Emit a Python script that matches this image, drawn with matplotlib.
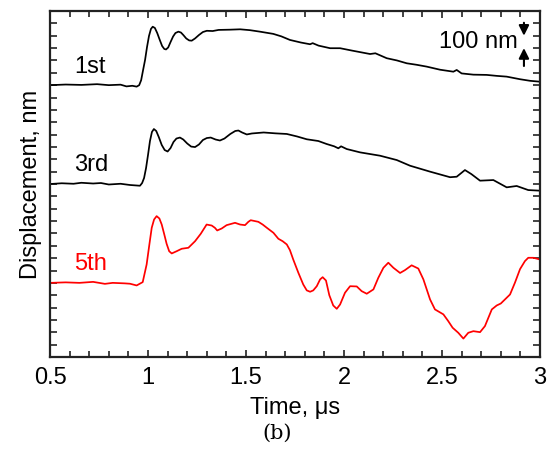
import matplotlib.pyplot as plt
import numpy as np

plt.rcParams['font.family'] = ['Liberation Sans', 'DejaVu Sans']

# Displacement traces (nm, relative to each baseline) vs time (us)
t_1st = [0.5, 0.58, 0.66, 0.74, 0.80, 0.86, 0.89, 0.92, 0.942, 0.955, 0.965,
         0.975, 0.985, 0.995, 1.005, 1.015, 1.024, 1.035, 1.047, 1.06, 1.072,
         1.083, 1.092, 1.103, 1.115, 1.128, 1.14, 1.155, 1.168, 1.18, 1.195,
         1.21, 1.223, 1.24, 1.26, 1.28, 1.3, 1.33, 1.36, 1.418, 1.47, 1.52,
         1.571, 1.639, 1.68, 1.724, 1.78, 1.827, 1.84, 1.87, 1.929, 1.98, 2.04,
         2.133, 2.16, 2.218, 2.27, 2.32, 2.37, 2.422, 2.49, 2.558, 2.575, 2.6,
         2.66, 2.728, 2.78, 2.83, 2.898, 2.95, 3.0]
d_1st = [0, 5, 2, 8, 0, 4, -10, -5, -12, 0, 40,
         123, 204, 309, 398, 455, 473, 463, 422, 366, 317,
         293, 289, 305, 349, 394, 422, 433, 426, 406, 378,
         362, 360, 378, 406, 430, 440, 438, 447, 449, 452, 445,
         433, 415, 395, 366, 345, 331, 340, 320, 299, 299, 280,
         252, 258, 218, 200, 177, 165, 150, 125, 109, 123, 95,
         85, 83, 75, 69, 48, 35, 28]

t_3rd = [0.5, 0.56, 0.62, 0.66, 0.72, 0.76, 0.80, 0.86, 0.908, 0.959, 0.97,
         0.98, 0.99, 1.0, 1.01, 1.02, 1.03, 1.042, 1.055, 1.07, 1.085, 1.1,
         1.115, 1.13, 1.145, 1.163, 1.18, 1.2, 1.22, 1.24, 1.26, 1.28, 1.3,
         1.32, 1.345, 1.367, 1.39, 1.42, 1.445, 1.461, 1.48, 1.504, 1.53,
         1.56, 1.59, 1.65, 1.708, 1.76, 1.81, 1.869, 1.911, 1.95, 1.971,
         1.985, 2.014, 2.082, 2.184, 2.269, 2.337, 2.439, 2.541, 2.575,
         2.617, 2.65, 2.694, 2.762, 2.83, 2.881, 2.94, 3.0]
d_3rd = [0, 6, 2, 10, 4, 8, -4, 2, -8, -14, 8,
         49, 129, 235, 348, 421, 445, 429, 380, 316, 275, 263,
         291, 340, 368, 376, 360, 328, 303, 299, 320, 356, 372,
         376, 360, 352, 368, 405, 429, 433, 417, 401, 409,
         413, 417, 410, 405, 385, 362, 348, 324, 305, 289,
         305, 283, 256, 229, 194, 148, 100, 55, 59,
         113, 80, 27, 32, -27, -16, -49, -54]

t_5th = [0.5, 0.58, 0.65, 0.72, 0.78, 0.82, 0.88, 0.908, 0.942, 0.973,
         0.993, 1.007, 1.019, 1.031, 1.044, 1.058, 1.07, 1.083, 1.095, 1.108,
         1.121, 1.146, 1.172, 1.206, 1.24, 1.269, 1.299, 1.325, 1.341, 1.353,
         1.376, 1.401, 1.444, 1.47, 1.495, 1.512, 1.524, 1.563, 1.585, 1.606,
         1.64, 1.665, 1.687, 1.708, 1.724, 1.741, 1.767, 1.792, 1.81, 1.827,
         1.843, 1.861, 1.878, 1.891, 1.908, 1.925, 1.945, 1.963, 1.98, 2.005,
         2.031, 2.065, 2.09, 2.116, 2.15, 2.175, 2.201, 2.226, 2.252, 2.286,
         2.311, 2.345, 2.379, 2.405, 2.439, 2.464, 2.507, 2.532, 2.554, 2.583,
         2.609, 2.634, 2.66, 2.694, 2.719, 2.754, 2.779, 2.8, 2.847, 2.872,
         2.898, 2.923, 2.94, 2.966, 3.0]
d_5th = [0, 4, 0, 8, -8, 0, -4, -7, -21, 6,
         149, 311, 446, 513, 540, 521, 472, 392, 316, 256,
         238, 256, 276, 284, 337, 397, 472, 464, 446, 424,
         440, 467, 486, 472, 467, 494, 507, 494, 472, 446,
         405, 357, 337, 311, 265, 189, 82, -13, -61, -72,
         -61, -27, 28, 46, 19, -100, -183, -210, -175, -80,
         -27, -29, -67, -88, -53, 41, 122, 163, 122, 80,
         103, 142, 116, 28, -134, -215, -255, -310, -363, -404,
         -451, -404, -391, -399, -350, -215, -183, -167, -94, 1,
         111, 176, 203, 203, 189]

offsets = [2200, 1400, 600]
names = ['1st', '3rd', '5th']
colors = ['black', 'black', 'red']

fig = plt.figure(figsize=(5.55, 4.61), dpi=100)
ax = fig.add_axes([0.0901, 0.2256, 0.8829, 0.7505])

traces = [(t_1st, d_1st), (t_3rd, d_3rd), (t_5th, d_5th)]
for (t, d), off, name, c in zip(traces, offsets, names, colors):
    ax.plot(t, np.array(d) + off, color=c, lw=1.25)
    ax.text(0.625, off + 150, name, color=c, fontsize=17, va='center', ha='left')

# 100 nm scale bar
bar_t = 2.918
arrow = dict(arrowstyle='-|>', color='black', lw=1.5, mutation_scale=15,
             shrinkA=0, shrinkB=0)
ax.annotate('', xy=(bar_t, 2600), xytext=(bar_t, 2705), arrowprops=arrow)
ax.annotate('', xy=(bar_t, 2500), xytext=(bar_t, 2355), arrowprops=arrow)
ax.text(2.888, 2548, '100 nm', fontsize=17, ha='right', va='center')

## FORMATTING
ax.set_xlim(0.5, 3.0)
ax.set_ylim(0, 2800)
ax.set_xticks([0.5, 1, 1.5, 2, 2.5, 3])
ax.set_xticklabels(['0.5', '1', '1.5', '2', '2.5', '3'])
ax.set_xticks(np.arange(0.5, 3.01, 0.1), minor=True)
ax.set_yticks(np.arange(0, 2801, 100))
ax.set_yticklabels([])
ax.tick_params(which='both', direction='in', top=True, right=True, width=1.2,
               labelsize=17, colors='#222222', labelcolor='black', pad=7)
ax.tick_params(which='major', length=5)
ax.tick_params(which='minor', length=4.5)
for s in ax.spines.values():
    s.set_linewidth(1.6)
    s.set_color('#222222')

ax.set_xlabel('Time, μs', fontsize=17, labelpad=6)
ax.set_ylabel('Displacement, nm', fontsize=17, labelpad=-1)
fig.text(0.5, 0.06, '(b)', fontsize=15, ha='center', va='center', family='DejaVu Serif')

fig.savefig('out.png', dpi=100)
